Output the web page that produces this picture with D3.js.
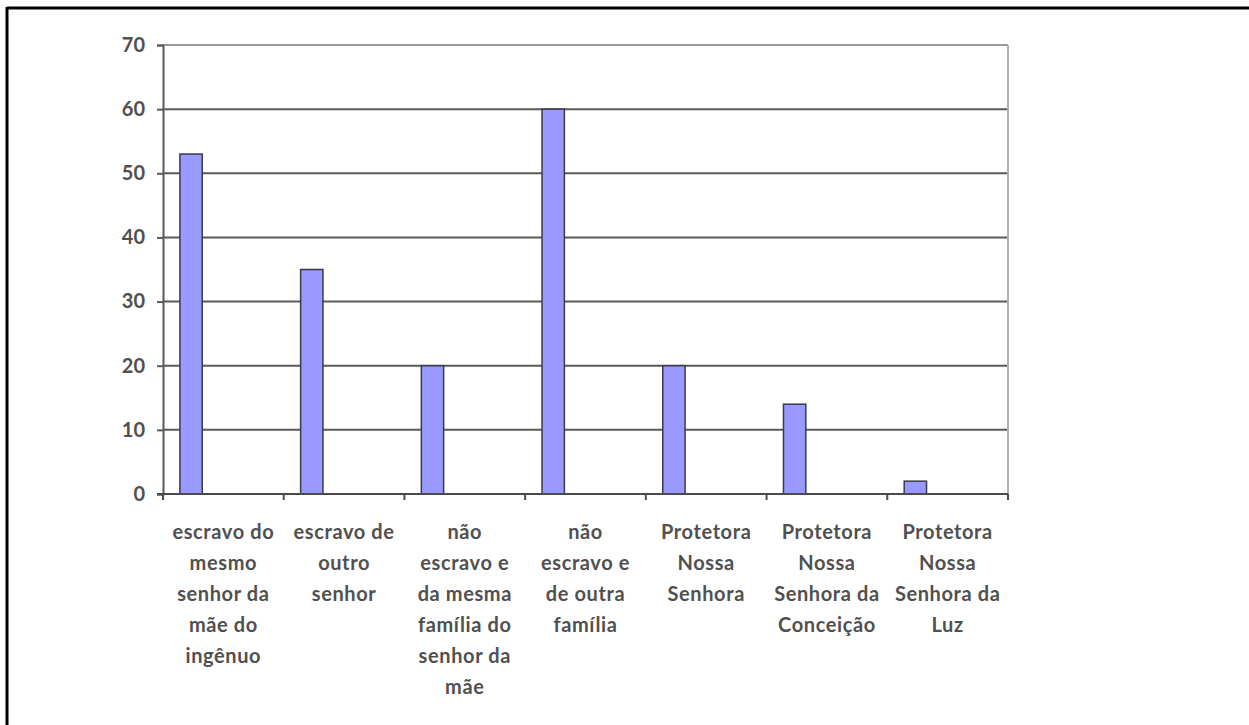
<!DOCTYPE html>
<html>
<head>
<meta charset="utf-8">
<script src="https://cdn.jsdelivr.net/npm/d3@7"></script>
<style>
	body { margin: 0; background: #fff; }
	svg { display: block; }
	svg text { font-family: Lato, "Open Sans", sans-serif; }
</style>
</head>
<body>
<div id="idContent"></div>
<script>
// categories (one entry per line of the wrapped label)
var aCategories = [
	["escravo do", "mesmo", "senhor da", "mãe do", "ingênuo"],
	["escravo de", "outro", "senhor"],
	["não", "escravo e", "da mesma", "família do", "senhor da", "mãe"],
	["não", "escravo e", "de outra", "família"],
	["Protetora", "Nossa", "Senhora"],
	["Protetora", "Nossa", "Senhora da", "Conceição"],
	["Protetora", "Nossa", "Senhora da", "Luz"]
];
var aValues = [53, 35, 20, 60, 20, 14, 2];
var aYTicks = [0, 10, 20, 30, 40, 50, 60, 70];

var width = 1249, height = 725;
var margin = { top: 45, right: 241, bottom: 231, left: 163 };
var plotW = width - margin.left - margin.right,
	plotH = height - margin.top - margin.bottom;

var svg = d3.select("#idContent").append("svg")
	.attr("width", width)
	.attr("height", height);

// frame: only top and left edges are visible
svg.append("line").attr("x1", 7).attr("x2", width).attr("y1", 8).attr("y2", 8)
	.attr("stroke", "#000").attr("stroke-width", 3);
svg.append("line").attr("x1", 7).attr("x2", 7).attr("y1", 7).attr("y2", height)
	.attr("stroke", "#000").attr("stroke-width", 3);

var oChart = svg.append("g")
	.attr("transform", "translate(" + margin.left + "," + margin.top + ")");

var aIdx = aValues.map(function (d, i) { return i; });
var x = d3.scaleBand().domain(aIdx).range([0, plotW]);
var y = d3.scaleLinear().domain([0, 70]).range([plotH, 0]);

var barOffset = x.bandwidth() * 0.14,
	barWidth = x.bandwidth() * 0.185;

// gridlines
oChart.selectAll(".grid")
	.data(aYTicks.filter(function (t) { return t > 0; }))
	.enter().append("line")
	.attr("class", "grid")
	.attr("x1", 0).attr("x2", plotW)
	.attr("y1", function (d) { return y(d); })
	.attr("y2", function (d) { return y(d); })
	.attr("stroke", function (d) { return d == 70 ? "#9a9a9a" : "#5a5a5a"; })
	.attr("stroke-width", 2);

// right edge of plot area
oChart.append("line")
	.attr("x1", plotW).attr("x2", plotW).attr("y1", 0).attr("y2", plotH)
	.attr("stroke", "#b0b0b0").attr("stroke-width", 2);

// bars
oChart.selectAll(".bar")
	.data(aValues)
	.enter().append("rect")
	.attr("class", "bar")
	.attr("x", function (d, i) { return x(i) + barOffset; })
	.attr("y", function (d) { return y(d); })
	.attr("width", barWidth)
	.attr("height", function (d) { return plotH - y(d); })
	.attr("fill", "#9999ff")
	.attr("stroke", "#3a3a4a")
	.attr("stroke-width", 1.5);

// y axis
var yAxis = oChart.append("g")
	.call(d3.axisLeft(y).tickValues(aYTicks).tickSize(6).tickPadding(12));
yAxis.attr("font-family", "Lato, 'Open Sans', sans-serif");
yAxis.select(".domain").attr("stroke", "#5a5a5a").attr("stroke-width", 2);
yAxis.selectAll(".tick line").attr("stroke", "#5a5a5a").attr("stroke-width", 2);
yAxis.selectAll(".tick text")
	.attr("fill", "#505050").style("font-size", "20px").style("font-weight", "bold");

// x axis: ticks on band boundaries
var xAxis = oChart.append("g")
	.attr("transform", "translate(0," + plotH + ")");
xAxis.append("line")
	.attr("x1", -6).attr("x2", plotW)
	.attr("stroke", "#4a4a4a").attr("stroke-width", 2);
xAxis.selectAll(".xtick")
	.data(d3.range(aValues.length + 1))
	.enter().append("line")
	.attr("class", "xtick")
	.attr("x1", function (d) { return d < aValues.length ? x(d) : plotW; })
	.attr("x2", function (d) { return d < aValues.length ? x(d) : plotW; })
	.attr("y1", 0).attr("y2", 6)
	.attr("stroke", "#4a4a4a").attr("stroke-width", 2);

var oLabels = xAxis.selectAll(".xlabel")
	.data(aCategories)
	.enter().append("text")
	.attr("class", "xlabel")
	.attr("text-anchor", "middle")
	.attr("fill", "#505050")
	.style("font-size", "20px")
	.style("letter-spacing", "0.6px")
	.style("font-weight", "bold");
oLabels.each(function (aLines, i) {
	var oText = d3.select(this);
	aLines.forEach(function (sLine, j) {
		oText.append("tspan")
			.attr("x", x(i) + x.bandwidth() / 2)
			.attr("y", 45 + j * 31)
			.text(sLine);
	});
});
</script>
</body>
</html>
